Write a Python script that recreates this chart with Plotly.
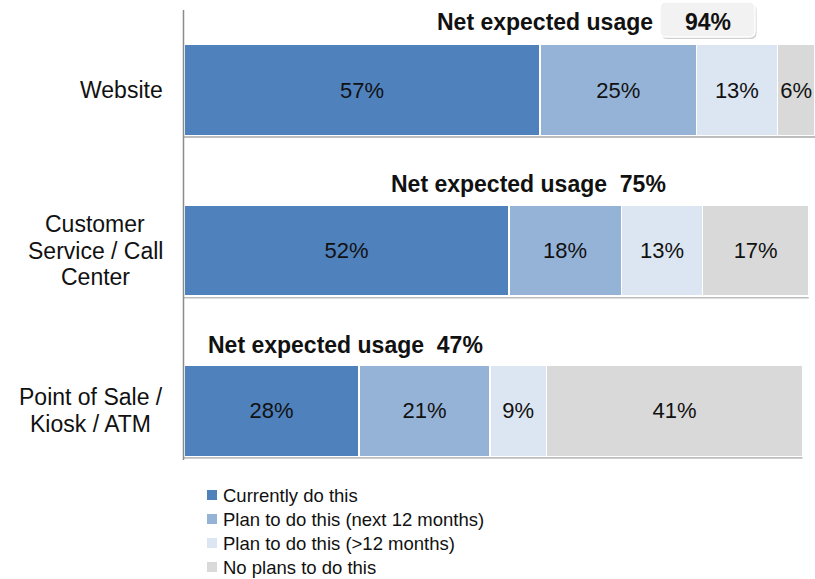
import plotly.graph_objects as go

categories = ["Website", "Customer<br>Service / Call<br>Center", "Point of Sale /<br>Kiosk / ATM"]
series_names = ["Currently do this", "Plan to do this (next 12 months)",
                "Plan to do this (>12 months)", "No plans to do this"]
currently = [57, 52, 28]
plan_next12 = [25, 18, 21]
plan_later = [13, 13, 9]
no_plans = [6, 17, 41]
net_expected = [94, 75, 47]

colors = ["#4F81BD", "#95B3D7", "#DCE6F2", "#D9D9D9"]
FONT = "Liberation Sans, Arial, sans-serif"

ypos = list(range(len(categories)))
series = [currently, plan_next12, plan_later, no_plans]
XMAX = 101

fig = go.Figure()
for name, vals, col in zip(series_names, series, colors):
    fig.add_trace(go.Bar(
        y=ypos, x=vals, name=name, orientation="h",
        marker=dict(color=col, line=dict(color="white", width=1.5)),
        text=[f"{v}%" for v in vals], textposition="inside", textangle=0,
        insidetextanchor="middle", constraintext="none",
        textfont=dict(family=FONT, size=22, color="#111111"),
        width=0.567, hoverinfo="skip", showlegend=False,
    ))

W_PX, H_PX = 631, 481
PX = W_PX / XMAX
ROW_PX = 160.5


def xd(px):
    return (px - 184) / PX


def xp(px):
    return (px - 184) / W_PX


def yp(py):
    return (491 - py) / H_PX


shapes = []
# soft shadow beneath each bar
for i in ypos:
    tot = sum(s[i] for s in series)
    shapes.append(dict(type="rect", xref="x", yref="y", x0=0, x1=tot,
                       y0=i + 0.2835, y1=i + 0.2835 + 2.5 / ROW_PX,
                       fillcolor="#BDBDBD", line=dict(width=0), layer="below"))
# left axis line
shapes.append(dict(type="line", xref="paper", yref="paper", x0=-0.0008, x1=-0.0008,
                   y0=yp(460), y1=1.0, line=dict(color="#8C8C8C", width=1.5)))


def rrect(x0, y0, x1, y1, r=6):
    rx, ry = r / W_PX, r / H_PX
    return (f"M{x0+rx},{y0} L{x1-rx},{y0} Q{x1},{y0} {x1},{y0+ry} "
            f"L{x1},{y1-ry} Q{x1},{y1} {x1-rx},{y1} L{x0+rx},{y1} "
            f"Q{x0},{y1} {x0},{y1-ry} L{x0},{y0+ry} Q{x0},{y0} {x0+rx},{y0} Z")


bx0, bx1 = xp(660), xp(755)
by0, by1 = yp(37), yp(2)
sx, sy = 1.5 / W_PX, 2 / H_PX
shapes.append(dict(type="path", xref="paper", yref="paper",
                   path=rrect(bx0 + sx, by0 - sy, bx1 + sx, by1 - sy),
                   fillcolor="rgba(0,0,0,0.18)", line=dict(width=0)))
shapes.append(dict(type="path", xref="paper", yref="paper",
                   path=rrect(bx0, by0, bx1, by1),
                   fillcolor="#F2F2F2", line=dict(color="white", width=1.5)))

annotations = []
# category labels: each line placed separately for tighter line spacing, centred per block
LINE_PX = 27
label_cx = [121.5, 95, 90.5]
for i, lab in enumerate(categories):
    lines = lab.split("<br>")
    n = len(lines)
    for k, line in enumerate(lines):
        annotations.append(dict(xref="paper", yref="y", x=xp(label_cx[i]),
                                y=i + (k - (n - 1) / 2) * LINE_PX / ROW_PX,
                                xanchor="center", yanchor="middle",
                                text=line, showarrow=False,
                                font=dict(family=FONT, size=23, color="#111111")))

# Net expected usage labels
bold = dict(family=FONT, size=23, color="#111111")
annotations.append(dict(xref="x", yref="y", x=xd(545), y=-0.424, text="<b>Net expected usage</b>",
                        showarrow=False, font=bold))
annotations.append(dict(xref="x", yref="y", x=xd(708), y=-0.424, text=f"<b>{net_expected[0]}%</b>",
                        showarrow=False, font=bold))
annotations.append(dict(xref="x", yref="y", x=xd(528), y=0.586,
                        text=f"<b>Net expected usage&nbsp; {net_expected[1]}%</b>",
                        showarrow=False, font=bold))
annotations.append(dict(xref="x", yref="y", x=xd(345), y=1.589,
                        text=f"<b>Net expected usage&nbsp; {net_expected[2]}%</b>",
                        showarrow=False, font=bold))

# legend (drawn as key squares + labels)
for k, (name, col) in enumerate(zip(series_names, colors)):
    cy = 495 + 24 * k
    shapes.append(dict(type="rect", xref="paper", yref="paper",
                       x0=xp(207), x1=xp(217), y0=yp(cy + 5), y1=yp(cy - 5),
                       fillcolor=col, line=dict(width=0)))
    annotations.append(dict(xref="paper", yref="paper", x=xp(221), y=yp(cy),
                            xanchor="left", yanchor="middle", text=name, showarrow=False,
                            font=dict(family=FONT, size=18.5, color="#111111")))

fig.update_layout(
    width=815, height=579, barmode="stack",
    margin=dict(l=184, r=0, t=10, b=88, autoexpand=False),
    paper_bgcolor="white", plot_bgcolor="white",
    xaxis=dict(range=[0, XMAX], visible=False, fixedrange=True),
    yaxis=dict(range=[2.5, -0.5], visible=False, fixedrange=True),
    shapes=shapes, annotations=annotations,
    showlegend=False,
    font=dict(family=FONT),
)

fig.write_html("out.html", config={"displayModeBar": False},
               post_script="document.body.style.margin='0';document.body.style.overflow='hidden';")
